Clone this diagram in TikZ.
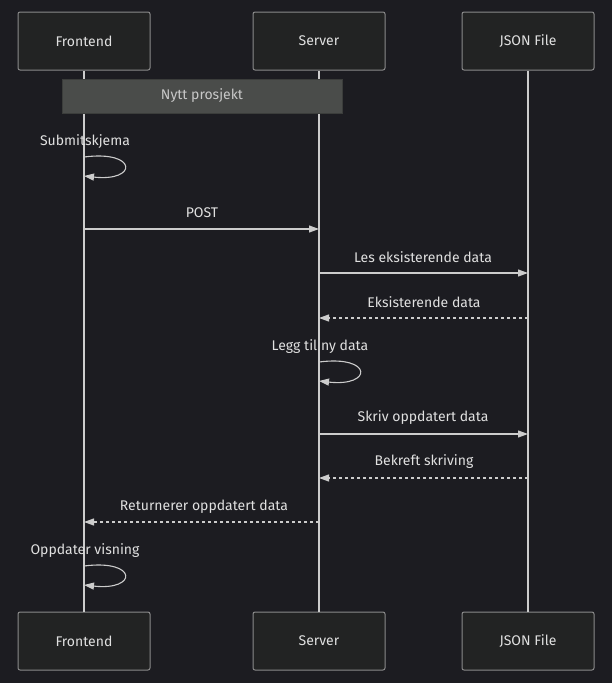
\documentclass[tikz,border=0pt]{standalone}
\usepackage{fontspec}
\setmainfont{Fira Sans}
\usetikzlibrary{arrows.meta}
\definecolor{bg}{HTML}{1C1C21}
\definecolor{actfill}{HTML}{222323}
\definecolor{actline}{HTML}{8A8A8A}
\definecolor{life}{HTML}{CCCCCC}
\definecolor{txt}{HTML}{E0E0E0}
\definecolor{notefill}{HTML}{4A4C4A}
\definecolor{notetxt}{HTML}{C8C8C8}
\tikzset{
  actor/.style={draw=actline, fill=actfill, line width=1pt, rounded corners=2pt,
    minimum width=132pt, minimum height=58pt, text=txt, font=\fontsize{14}{16}\selectfont},
  lifeline/.style={draw=life, line width=1.4pt},
  msg/.style={draw=life, line width=1.1pt, -{Triangle[length=10pt,width=7pt]}},
  reply/.style={msg, dash pattern=on 3pt off 3pt},
  lbl/.style={text=txt, font=\fontsize{14}{16}\selectfont},
  notebox/.style={draw=notefill!80!black, fill=notefill, minimum width=280pt, minimum height=34pt,
    text=notetxt, font=\fontsize{14}{16}\selectfont, line width=0.6pt}
}
\begin{document}
\begin{tikzpicture}[x=1pt,y=-1pt]
\useasboundingbox (0,0) rectangle (612,683);
\fill[bg] (0,0) rectangle (612,683);
% actors
\node[actor] (ft) at (84,41) {Frontend};
\node[actor] (st) at (319,41) {Server};
\node[actor] (jt) at (528,41) {JSON File};
\node[actor] (fb) at (84,641) {Frontend};
\node[actor] (sb) at (319,641) {Server};
\node[actor] (jb) at (528,641) {JSON File};
% lifelines
\draw[lifeline] (ft.south) -- (fb.north);
\draw[lifeline] (st.south) -- (sb.north);
\draw[lifeline] (jt.south) -- (jb.north);
% note
\node[notebox] (note) at (202,96) {Nytt prosjekt};
% coordinates
\coordinate (f1) at (84,157); \coordinate (f2) at (84,176);
\coordinate (f3) at (84,229); \coordinate (s3) at (319,229);
\coordinate (s4) at (319,273); \coordinate (j4) at (528,273);
\coordinate (j5) at (528,318); \coordinate (s5) at (319,318);
\coordinate (s6) at (319,362); \coordinate (s7) at (319,381);
\coordinate (s8) at (319,434); \coordinate (j8) at (528,434);
\coordinate (j9) at (528,478); \coordinate (s9) at (319,478);
\coordinate (s10) at (319,522); \coordinate (f10) at (84,522);
\coordinate (f11) at (84,566); \coordinate (f12) at (84,585);
% messages
\node[lbl] (l1) at (85,142) {Submitskjema};
\draw[msg] (f1) .. controls (138,150) and (138,182) .. (f2);
\node[lbl] (l2) at (202,213) {POST};
\draw[msg] (f3) -- (s3);
\node[lbl] (l3) at (423,257) {Les eksisterende data};
\draw[msg] (s4) -- (j4);
\node[lbl] (l4) at (424,302) {Eksisterende data};
\draw[reply] (j5) -- (s5);
\node[lbl] (l5) at (320,347) {Legg til ny data};
\draw[msg] (s6) .. controls (373,355) and (373,387) .. (s7);
\node[lbl] (l6) at (423,418) {Skriv oppdatert data};
\draw[msg] (s8) -- (j8);
\node[lbl] (l7) at (424,462) {Bekreft skriving};
\draw[reply] (j9) -- (s9);
\node[lbl] (l8) at (204,507) {Returnerer oppdatert data};
\draw[reply] (s10) -- (f10);
\node[lbl] (l9) at (85,551) {Oppdater visning};
\draw[msg] (f11) .. controls (138,559) and (138,591) .. (f12);
\end{tikzpicture}
\end{document}
